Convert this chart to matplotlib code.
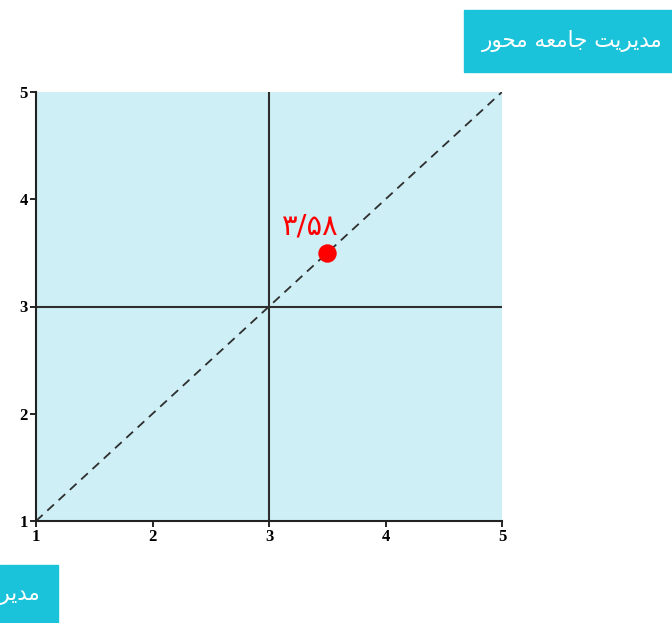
import matplotlib.pyplot as plt
from matplotlib.patches import Rectangle

# data
x_ticks = [1, 2, 3, 4, 5]
y_ticks = [1, 2, 3, 4, 5]
mid_x = 3
mid_y = 3
point_x = 3.5
point_y = 3.5
point_label = "\u06f3/\u06f5\u06f8"  # ۳/۵۸
# "مدیریت جامعه محور" written in presentation forms, visual order (no shaping in matplotlib)
title_words = [
    "\ufee3\ufeaa\ufef3\ufeae\ufef3\ufe96",   # مدیریت
    "\ufe9f\ufe8e\ufee3\ufecc\ufeea",         # جامعه
    "\ufee3\ufea4\ufeee\ufead",               # محور
]
title_text = " ".join(w[::-1] for w in title_words[::-1])

fill_col = "#cdeff5"
box_col = "#1bc3da"
line_col = "#2e2e2e"

fig = plt.figure(figsize=(6.72, 6.23), dpi=100)
ax = fig.add_axes([36/672, 1-521/623, 466/672, 429/623])
ax.set_facecolor(fill_col)
ax.set_xlim(1, 5)
ax.set_ylim(1, 5)

ax.axvline(mid_x, color=line_col, lw=1.5)
ax.axhline(mid_y, color=line_col, lw=1.5)
ax.plot([x_ticks[0], x_ticks[-1]], [y_ticks[0], y_ticks[-1]], ls="--", color=line_col, lw=1.3, dashes=(5, 3.5))

ax.scatter([point_x], [point_y], s=150, color="#ff0000", zorder=5)
ax.annotate(point_label, (point_x, point_y), xytext=(-12, 19), textcoords="offset points",
            ha="center", va="center", color="#ff0000", fontsize=21, family="DejaVu Sans")

ax.spines["top"].set_visible(False)
ax.spines["right"].set_visible(False)
for s in ["left", "bottom"]:
    ax.spines[s].set_linewidth(1.5)
    ax.spines[s].set_color("#222222")
ax.set_xticks(x_ticks)
ax.set_yticks(y_ticks)
ax.tick_params(direction="out", length=4, width=1.2, pad=2)
for lab in ax.get_xticklabels() + ax.get_yticklabels():
    lab.set_fontfamily("Liberation Serif")
    lab.set_fontweight("bold")
    lab.set_fontsize(12)

# top-right box
fig.patches.append(Rectangle((464/672, 1-72/623), 210/672, 62/623, transform=fig.transFigure,
                             color=box_col, zorder=0))
fig.text(663/672, 1-41/623, title_text, ha="right", va="center", color="white",
         fontsize=15.5, family="DejaVu Sans")

# bottom-left box (cut off at the edge, as in the source)
fig.patches.append(Rectangle((0, 0), 58/672, 58/623, transform=fig.transFigure,
                             color=box_col, zorder=0))
fig.text(41/672, 29/623, title_text, ha="right", va="center", color="white",
         fontsize=15.5, family="DejaVu Sans")

fig.savefig("out.png", dpi=100)
